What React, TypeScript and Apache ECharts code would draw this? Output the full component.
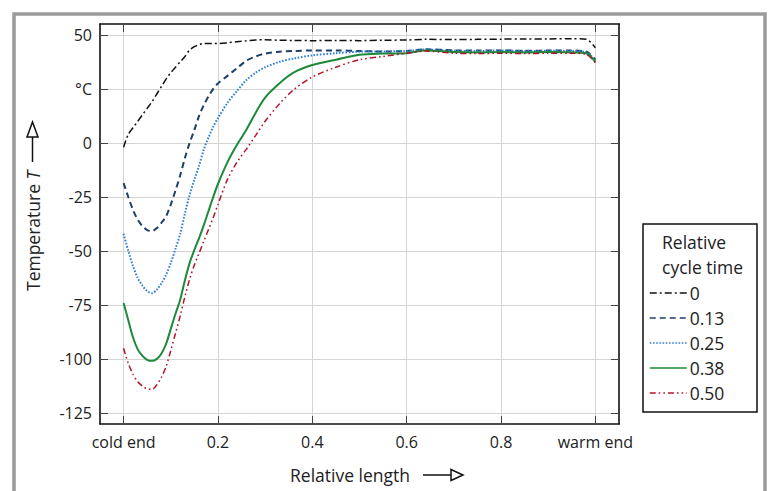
import React, { useEffect, useRef } from "react";
import * as echarts from "echarts";

const xs = [0, 0.01, 0.02, 0.03, 0.04, 0.05, 0.06, 0.07, 0.08, 0.09, 0.1, 0.11, 0.12, 0.13, 0.14, 0.15, 0.16, 0.17, 0.18, 0.19, 0.2, 0.22, 0.24, 0.26, 0.28, 0.3, 0.33, 0.36, 0.4, 0.45, 0.5, 0.55, 0.6, 0.64, 0.7, 0.75, 0.8, 0.85, 0.9, 0.95, 0.98, 1.0];

const t000 = [-2, 4, 7, 10, 13, 16, 19, 22.5, 26, 29.5, 32.5, 35, 37.5, 40, 43, 44.5, 45.5, 46, 46, 46, 46, 46.3, 46.8, 47.2, 47.6, 47.7, 47.5, 47.4, 47.3, 47.4, 47.3, 47.5, 47.6, 47.9, 47.8, 47.9, 48, 48.1, 48.1, 48.2, 48, 44];
const t013 = [-18.6, -25, -31, -35.5, -38.5, -40.3, -40.8, -39.5, -37, -34, -28.5, -22, -15, -7, 0, 6, 12.5, 17.5, 21.5, 25, 27.5, 31, 34.5, 38, 40, 41.3, 42.2, 42.5, 42.8, 42.8, 42.5, 42.3, 42.5, 43.3, 42.8, 42.7, 42.8, 42.6, 42.7, 42.7, 42.3, 38.5];
const t025 = [-42, -50, -57, -62.5, -66, -68.5, -69.5, -68, -65, -61, -55.5, -49, -42, -32.5, -24, -17, -10.5, -3, 2.5, 7.5, 11.5, 18.5, 24, 29, 32.5, 35, 37.5, 39, 40.5, 41.5, 42.2, 42.3, 42.5, 43.2, 42.6, 42.5, 42.8, 42.5, 42.6, 42.5, 42, 38];
const t038 = [-74, -82, -90, -95.5, -98.5, -100.3, -100.8, -100, -97.5, -93, -86, -79, -72.5, -63.5, -55.5, -49.5, -44, -38, -31.5, -25, -19, -9, -1, 6, 14, 21, 27.5, 32.5, 36, 38.5, 40.8, 41.3, 41.5, 42.8, 42, 41.8, 42, 41.8, 42, 41.8, 41.5, 37.5];
const t050 = [-95, -102, -107, -110.5, -112.5, -113.7, -114, -112, -108.5, -103.5, -96, -88, -80, -71, -63, -56.5, -51, -45.5, -40, -34.5, -28.5, -17, -9, -3, 3.5, 10, 18, 24.5, 30.5, 35, 38.5, 40, 41.5, 42.5, 41.5, 41.3, 41.5, 41.3, 41.5, 41.5, 41, 37];

const seriesNames = ["0", "0.13", "0.25", "0.38", "0.50"];
const seriesValues = [t000, t013, t025, t038, t050];
const seriesColors = ["#111111", "#1d3f6b", "#2f7fd6", "#1c8a3a", "#b01428"];
const seriesDash: any[] = [[7, 3, 2, 3], [6, 4], [1.6, 1.6], "solid", [6, 3, 1.6, 3, 1.6, 3]];
const seriesWidth = [1.5, 2, 2, 2, 1.5];

const xTicks = [0, 0.2, 0.4, 0.6, 0.8, 1.0];
const yTicks = [-125, -100, -75, -50, -25, 0, 25, 50];

const FONT = "Open Sans";
const BIG = 17.5;

export default function App() {
  const ref = useRef<HTMLDivElement>(null);
  useEffect(() => {
    const chart = echarts.init(ref.current!, undefined, { renderer: "svg" });
    const tickStyle = { show: true, inside: true, length: 8, lineStyle: { color: "#444", width: 1 } };
    const axisLine = { show: true, onZero: false, lineStyle: { color: "#111", width: 1.6 } };
    const splitLine = { show: true, lineStyle: { color: "#d4d4d4", width: 1 } };
    chart.setOption({
      animation: false,
      textStyle: { fontFamily: FONT },
      grid: { left: 100, top: 24, right: 150, bottom: 67, containLabel: false },
      legend: {
        orient: "vertical",
        left: 649,
        top: 284,
        itemWidth: 37,
        itemHeight: 14,
        itemGap: 7,
        padding: 0,
        itemStyle: { opacity: 0 },
        lineStyle: { width: 1.5 },
        textStyle: { fontFamily: FONT, fontSize: BIG, color: "#222", padding: [0, 0, 0, -2] },
        data: seriesNames,
      },
      xAxis: [
        {
          type: "value",
          min: -0.05,
          max: 1.05,
          position: "bottom",
          axisLine,
          axisTick: { ...tickStyle, customValues: xTicks },
          splitLine,
          axisLabel: {
            customValues: xTicks,
            margin: 10,
            fontFamily: FONT,
            fontSize: 16,
            color: "#222",
            formatter: (v: number) => (v === 0 ? "cold end" : v === 1 ? "warm end" : String(Math.round(v * 10) / 10)),
          },
        },
        {
          type: "value",
          min: -0.05,
          max: 1.05,
          position: "top",
          axisLine,
          axisTick: { ...tickStyle, customValues: xTicks },
          splitLine: { show: false },
          axisLabel: { show: false, customValues: xTicks },
        },
      ],
      yAxis: [
        {
          type: "value",
          min: -130,
          max: 55,
          position: "left",
          axisLine,
          axisTick: { ...tickStyle, customValues: yTicks },
          splitLine,
          axisLabel: {
            customValues: yTicks,
            margin: 8,
            fontFamily: FONT,
            fontSize: 16,
            color: "#222",
            formatter: (v: number) => (v === 25 ? "°C" : String(v)),
          },
        },
        {
          type: "value",
          min: -130,
          max: 55,
          position: "right",
          axisLine,
          axisTick: { ...tickStyle, customValues: yTicks },
          splitLine: { show: false },
          axisLabel: { show: false, customValues: yTicks },
        },
      ],
      series: seriesNames.map((name, k) => ({
        name,
        type: "line",
        xAxisIndex: 0,
        yAxisIndex: 0,
        symbol: "none",
        smooth: 0.3,
        color: seriesColors[k],
        lineStyle: { color: seriesColors[k], width: seriesWidth[k], type: seriesDash[k] },
        data: xs.map((x, i) => [x, seriesValues[k][i]]),
      })),
      graphic: [
        {
          type: "rect",
          shape: { x: 14, y: 14, width: 751, height: 520 },
          style: { fill: "none", stroke: "#9b9b9b", lineWidth: 3.5 },
          silent: true,
        },
        {
          type: "rect",
          shape: { x: 643, y: 224, width: 114, height: 188 },
          style: { fill: "none", stroke: "#111", lineWidth: 1.5 },
          silent: true,
        },
        {
          type: "text",
          x: 662,
          y: 242,
          style: { text: "Relative", font: `${BIG}px "${FONT}"`, fill: "#222", verticalAlign: "middle" },
        },
        {
          type: "text",
          x: 662,
          y: 267,
          style: { text: "cycle time", font: `${BIG}px "${FONT}"`, fill: "#222", verticalAlign: "middle" },
        },
        {
          type: "text",
          x: 290,
          y: 475,
          style: { text: "Relative length", font: `${BIG}px "${FONT}"`, fill: "#222", verticalAlign: "middle" },
        },
        {
          type: "line",
          shape: { x1: 423, y1: 475, x2: 451, y2: 475 },
          style: { stroke: "#111", lineWidth: 1.5 },
        },
        {
          type: "polygon",
          shape: { points: [[451, 469.5], [463, 475], [451, 480.5]] },
          style: { fill: "#fff", stroke: "#111", lineWidth: 1.5 },
        },
        {
          type: "text",
          x: 33,
          y: 291,
          rotation: Math.PI / 2,
          style: {
            text: "Temperature {i|T}",
            font: `${BIG}px "${FONT}"`,
            fill: "#222",
            verticalAlign: "middle",
            align: "left",
            rich: { i: { fontStyle: "italic", fontFamily: FONT, fontSize: BIG, fill: "#222" } },
          },
        },
        {
          type: "line",
          shape: { x1: 32.5, y1: 162, x2: 32.5, y2: 137 },
          style: { stroke: "#111", lineWidth: 1.5 },
        },
        {
          type: "polygon",
          shape: { points: [[27, 137], [32.5, 122], [38, 137]] },
          style: { fill: "#fff", stroke: "#111", lineWidth: 1.5 },
        },
      ],
    });
    return () => chart.dispose();
  }, []);
  return <div ref={ref} style={{ position: "absolute", left: 0, top: 0, width: 769, height: 491 }} />;
}
